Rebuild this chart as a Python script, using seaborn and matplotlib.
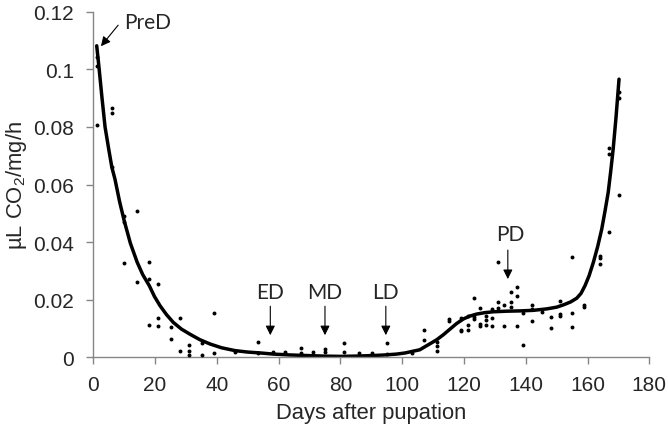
import matplotlib.pyplot as plt
import seaborn as sns

# Pontos medidos (dias após a pupação, µL CO2/mg/h)
dias = [1.1, 1.1, 1.1,
        6.0, 6.0, 6.0,
        10.0, 10.0, 10.0,
        14.2, 14.2,
        18.1, 18.1, 18.1,
        21.0, 21.0, 21.0,
        25.2, 25.2,
        28.1, 28.1,
        31.1, 31.1, 31.1,
        35.1, 35.1,
        39.1, 39.1,
        45.9,
        53.2, 53.2,
        58.3, 62.1,
        67.1, 67.1,
        71.0,
        75.0, 75.0,
        81.2, 81.2,
        86.1, 90.1,
        95.0, 95.0,
        103.1,
        107.2, 107.2,
        111.2, 111.2, 111.2,
        115.1, 115.1,
        119.0, 119.0, 119.0,
        121.2, 121.2, 121.2,
        123.1, 123.1, 123.1,
        125.2, 125.2, 125.2,
        127.1, 127.1, 127.1,
        129.2, 129.2, 129.2,
        131.1, 131.1, 131.1,
        133.1, 133.1,
        135.1, 135.1, 135.1,
        137.1, 137.1, 137.1,
        139.2, 139.2,
        142.1, 142.1, 142.1,
        145.2,
        148.1, 148.1,
        151.1, 151.1, 151.1,
        155.1, 155.1, 155.1,
        159.0, 159.0,
        164.0, 164.0, 164.0,
        167.0, 167.0, 167.0,
        170.2, 170.2, 170.2]
co2 = [0.1042, 0.1013, 0.0807,
       0.0865, 0.0847, 0.066,
       0.0492, 0.0469, 0.0327,
       0.0507, 0.0263,
       0.0332, 0.0272, 0.0112,
       0.0253, 0.0138, 0.011,
       0.0104, 0.0063,
       0.0138, 0.0023,
       0.0044, 0.0023, 0.0008,
       0.0049, 0.0008,
       0.0154, 0.0015,
       0.0017,
       0.0054, 0.0014,
       0.0019, 0.0017,
       0.0032, 0.0015,
       0.0017,
       0.0029, 0.0017,
       0.0051, 0.0017,
       0.0015, 0.0015,
       0.0051, 0.0011,
       0.0015,
       0.0096, 0.0061,
       0.0054, 0.0038, 0.0023,
       0.0133, 0.0127,
       0.0135, 0.0096, 0.009,
       0.0144, 0.0112, 0.0096,
       0.0205, 0.0139, 0.0133,
       0.0172, 0.0116, 0.011,
       0.0142, 0.013, 0.0113,
       0.0168, 0.0135, 0.011,
       0.0332, 0.0193, 0.0172,
       0.0182, 0.0108,
       0.0226, 0.0193, 0.0176,
       0.0244, 0.0212, 0.0108,
       0.0154, 0.0043,
       0.0182, 0.0168, 0.0127,
       0.0156,
       0.0139, 0.0103,
       0.0197, 0.015, 0.0144,
       0.0347, 0.0154, 0.0106,
       0.0182, 0.0174,
       0.0353, 0.0344, 0.0324,
       0.0434, 0.0727, 0.0705,
       0.0564, 0.0922, 0.09]

# Curva ajustada
curva_x = [1.1, 1.9, 2.8, 3.8, 5.0, 6.0, 7.0, 8.5, 10.0, 12.0, 14.2, 16.0,
           18.1, 19.8, 21.6, 23.7, 25.9, 28.5, 31.3, 34.5, 37.8, 41.5, 45.9,
           50.0, 54.0, 58.3, 63.5, 69.1, 74.5, 79.9, 85.2, 90.6, 94.5, 98.2,
           101.0, 103.1, 105.7, 107.9, 109.5, 111.2, 113.3, 115.5, 117.6,
           119.8, 121.9, 124.1, 126.8, 129.5, 133.8, 138.1, 142.5, 146.8,
           150.0, 152.2, 154.5, 156.5, 157.9, 159.2, 160.5, 161.9, 163.3,
           164.6, 165.7, 166.7, 167.5, 168.3, 169.2, 170.2]
curva_y = [0.1082, 0.1, 0.0902, 0.08, 0.0722, 0.066, 0.0619, 0.0541, 0.0474,
           0.0396, 0.033, 0.0287, 0.0249, 0.0211, 0.0179, 0.0148, 0.0121,
           0.0098, 0.008, 0.0061, 0.0046, 0.0033, 0.0023, 0.0018, 0.0015,
           0.0011, 0.0008, 0.0006, 0.0004, 0.0003, 0.0004, 0.0006, 0.0008,
           0.0011, 0.0015, 0.002, 0.0026, 0.004, 0.005, 0.0061, 0.0078,
           0.0098, 0.0117, 0.0133, 0.0143, 0.015, 0.0155, 0.0158, 0.016,
           0.0161, 0.0163, 0.0168, 0.0174, 0.0182, 0.0192, 0.0205, 0.0222,
           0.0249, 0.0283, 0.033, 0.0385, 0.0445, 0.051, 0.0573, 0.0645,
           0.0723, 0.083, 0.0966]

# Fases marcadas no gráfico
fases = ["ED", "MD", "LD"]
fases_x = [57.3, 75.0, 94.7]

sns.set_style("ticks")
plt.rcParams['font.family'] = ['Liberation Sans', 'DejaVu Sans']

fig = plt.figure(figsize=(6.68, 4.27), dpi=100)
ax = fig.add_axes([0.1397, 0.161, 0.8323, 0.809])

sns.lineplot(x=curva_x, y=curva_y, color="black", linewidth=2.5,
             estimator=None, ax=ax)
sns.scatterplot(x=dias, y=co2, color="black", s=8, linewidth=0,
                ax=ax, zorder=3)

ax.set_xlim(0, 180)
ax.set_ylim(0, 0.12)
ax.set_xticks(range(0, 181, 20))
ax.set_yticks([0, 0.02, 0.04, 0.06, 0.08, 0.1, 0.12])
ax.set_yticklabels(["0", "0.02", "0.04", "0.06", "0.08", "0.1", "0.12"])

sns.despine(ax=ax)
for lado in ["left", "bottom"]:
    ax.spines[lado].set_color("#868686")
    ax.spines[lado].set_linewidth(1)
ax.tick_params(axis="both", color="#868686", length=4.8, width=1,
               labelsize=15)
ax.tick_params(axis="x", pad=8)
ax.tick_params(axis="y", pad=9)

ax.set_xlabel("Days after pupation", fontsize=15.8, labelpad=6)
ax.set_ylabel(r"µL CO$_\mathregular{2}$/mg/h", fontsize=15.8, labelpad=3)

# Setas e rótulos
seta = dict(arrowstyle="-|>", color="black", lw=0.8, mutation_scale=14)
fonte = dict(family=["Lato", "DejaVu Sans"], fontsize=15)

ax.annotate("", xy=(1.9, 0.1073), xytext=(8.6, 0.1161), arrowprops=seta)
ax.text(10.0, 0.1166, "PreD", ha="left", va="center", **fonte)

for nome, xf in zip(fases, fases_x):
    ax.annotate("", xy=(xf, 0.0067), xytext=(xf, 0.0187), arrowprops=seta)
    ax.text(xf, 0.0228, nome, ha="center", va="center", **fonte)

ax.annotate("", xy=(134.2, 0.0262), xytext=(134.2, 0.0382), arrowprops=seta)
ax.text(135.1, 0.0428, "PD", ha="center", va="center", **fonte)

plt.savefig("out.png", dpi=100)
